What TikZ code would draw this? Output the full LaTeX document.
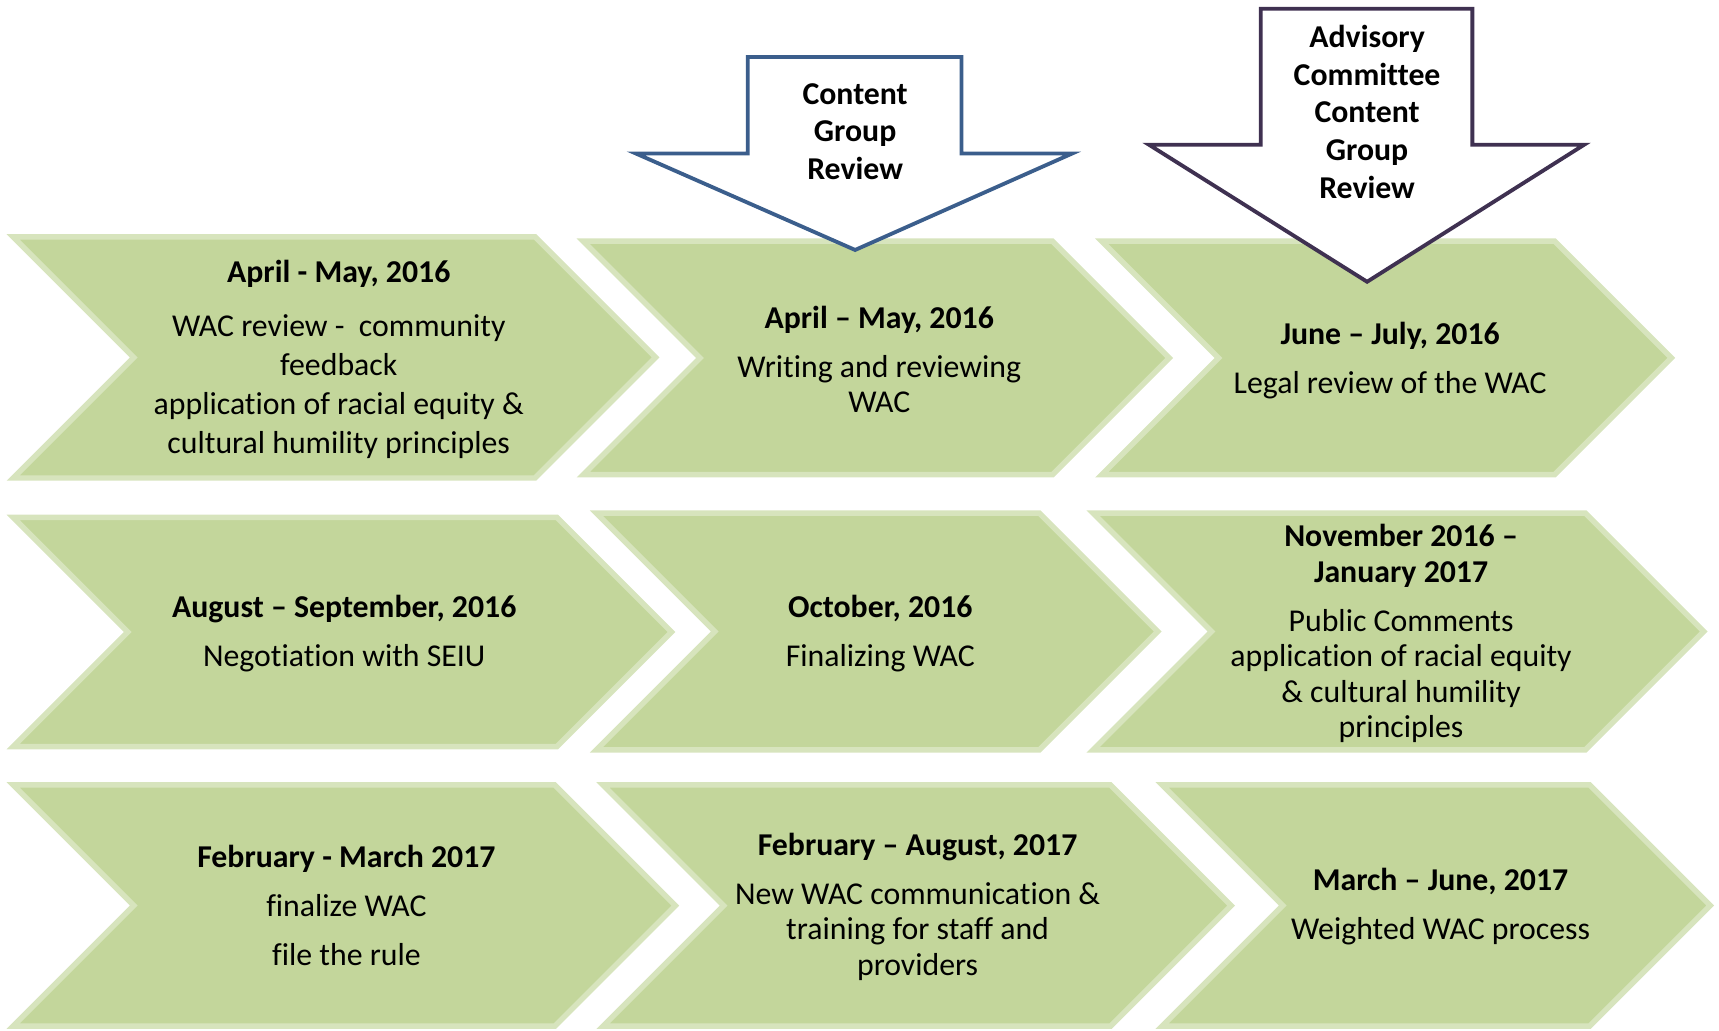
\documentclass[tikz,border=0pt]{standalone}
\usepackage{fontspec}
\setmainfont{Carlito}[Ligatures={NoCommon,NoContextual}, Contextuals=NoAlternate]
\usetikzlibrary{positioning}

\definecolor{stagefill}{HTML}{C3D69B}
\definecolor{stageline}{HTML}{D7E4BD}
\definecolor{reviewblue}{HTML}{3B5E8C}
\definecolor{reviewpurple}{HTML}{3F3151}

\begin{document}
\begin{tikzpicture}[x=1pt, y=-1pt,
		stage/.style={fill=stagefill, draw=stageline, line width=5pt, line join=miter},
		stagetext/.style={align=center, inner sep=0pt, font=\fontsize{29}{32.5}\selectfont},
		review/.style={fill=white, line width=3.5pt, line join=miter},
		reviewtext/.style={align=center, inner sep=0pt, font=\bfseries\fontsize{29}{34.5}\selectfont}]
		\useasboundingbox (0,0) rectangle (1568,940);

		% chevrons: left, right corner, top, bottom
		\foreach \xa/\xb/\ya/\yb in {12/488/216/436, 532/960/220/433, 1005/1418/220/433,
				12/508/472/681, 544/948/468/684, 997/1446/468/684,
				12/506/716/936, 550/1013/716/936, 1060/1450/716/936}
			\draw[stage] (\xa,\ya) -- (\xb,\ya) -- ({\xb+(\yb-\ya)/2},{(\ya+\yb)/2}) -- (\xb,\yb)
				-- (\xa,\yb) -- ({\xa+(\yb-\ya)/2},{(\ya+\yb)/2}) -- cycle;

		\node[stagetext, font=\fontsize{29}{35.5}\selectfont] (aprmay) at (309,328)
			{\textbf{April - May, 2016}\\[13.5pt] WAC review -\ \ community\\ feedback\\ application of racial equity \&\\ cultural humility principles};
		\node[stagetext] (writing) at (802,328) {\textbf{April – May, 2016}\\[12pt] Writing and reviewing\\ WAC};
		\node[stagetext] (legal) at (1268,329) {\textbf{June – July, 2016}\\[12pt] Legal review of the WAC};

		\node[stagetext] (seiu) at (314,578) {\textbf{August – September, 2016}\\[12pt] Negotiation with SEIU};
		\node[stagetext] (final) at (803,578) {\textbf{October, 2016}\\[12pt] Finalizing WAC};
		\node[stagetext] (public) at (1278,578) {\textbf{November 2016 –}\\ \textbf{January 2017}\\[12pt] Public Comments\\ application of racial equity\\ \& cultural humility\\ principles};

		\node[stagetext] (rule) at (316,826) {\textbf{February - March 2017}\\[12pt] finalize WAC\\[12pt] file the rule};
		\node[stagetext] (training) at (837,827) {\textbf{February – August, 2017}\\[12pt] New WAC communication \&\\ training for staff and\\ providers};
		\node[stagetext] (weighted) at (1314,827) {\textbf{March – June, 2017}\\[12pt] Weighted WAC process};

		% review arrows
		\draw[review, draw=reviewblue] (682,52) -- (877,52) -- (877,140) -- (978,140) -- (780,228) -- (580,140) -- (682,140) -- cycle;
		\node[reviewtext] (content) at (780,120) {Content\\ Group\\ Review};

		\draw[review, draw=reviewpurple] (1150,8) -- (1343,8) -- (1343,132) -- (1445,132) -- (1247,257) -- (1048,132) -- (1150,132) -- cycle;
		\node[reviewtext] (advisory) at (1247,102) {Advisory\\ Committee\\ Content\\ Group\\ Review};
	\end{tikzpicture}
\end{document}
